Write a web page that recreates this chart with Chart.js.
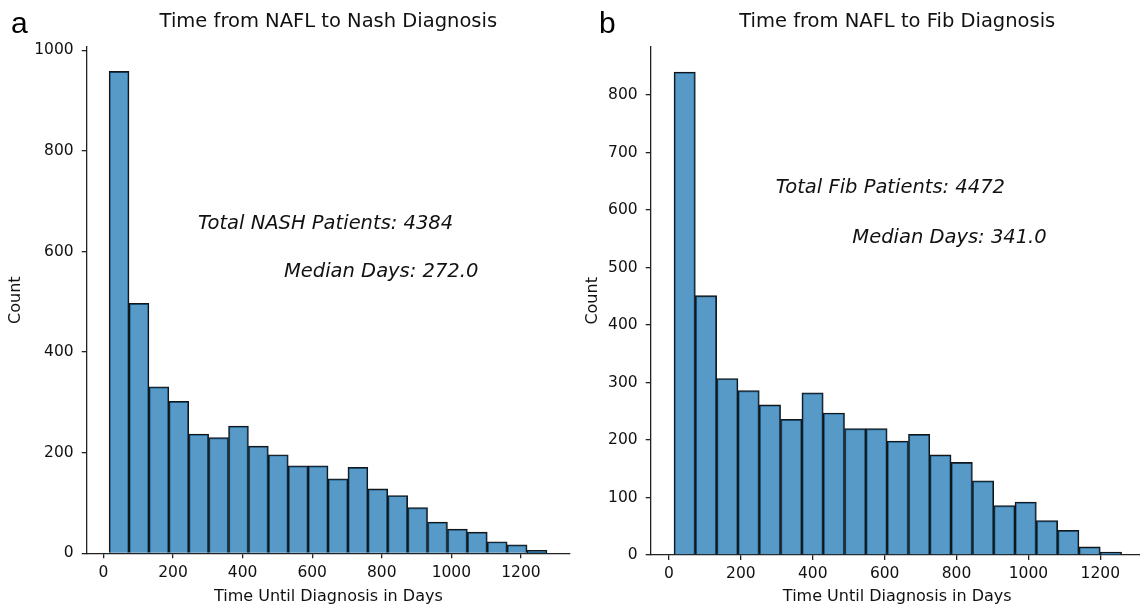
<!DOCTYPE html>
<html>
<head>
<meta charset="utf-8">
<title>Time from NAFL to Diagnosis</title>
<script src="https://cdn.jsdelivr.net/npm/chart.js@4.4.1/dist/chart.umd.min.js"></script>
<style>
  body { margin: 0; width: 1140px; height: 608px; overflow: hidden; background: #fff; position: relative; }
  .panel { position: absolute; top: 0; }
  #panel-a { left: 0; }
  #panel-b { left: 580px; }
</style>
</head>
<body>
<div class="panel" id="panel-a"><canvas id="chart-a" width="580" height="608"></canvas></div>
<div class="panel" id="panel-b"><canvas id="chart-b" width="580" height="608"></canvas></div>
<script>
// histogram counts
const nashCounts = [958, 497, 331, 302, 237, 230, 253, 213, 196, 174, 174, 148, 171, 128, 115, 91, 62, 48, 42, 23, 17, 6];
const nashBinStart = 16.4;
const nashBinWidth = 57.2;

const fibCounts = [840, 451, 307, 286, 261, 236, 282, 247, 220, 220, 198, 210, 174, 161, 129, 86, 92, 60, 43, 14, 5];
const fibBinStart = 13.9;
const fibBinWidth = 59.3;

const xTicks = [0, 200, 400, 600, 800, 1000, 1200];
const nashYTicks = [0, 200, 400, 600, 800, 1000];
const fibYTicks = [0, 100, 200, 300, 400, 500, 600, 700, 800];

const nashNotes = ['Total NASH Patients: 4384', 'Median Days: 272.0'];
const fibNotes = ['Total Fib Patients: 4472', 'Median Days: 341.0'];

Chart.defaults.font.family = '"DejaVu Sans", sans-serif';
Chart.defaults.color = '#111';

const AXIS_COLOR = '#222';
const BAR_FILL = 'rgba(31, 119, 180, 0.75)';

// draws panel letter, title and the two italic notes
const textPlugin = {
  id: 'panelText',
  afterDraw(chart, args, opts) {
    const ctx = chart.ctx;
    const area = chart.chartArea;
    const { x, y } = chart.scales;
    ctx.save();
    ctx.fillStyle = '#000';
    ctx.font = '30px "Liberation Sans", Arial, sans-serif';
    ctx.textAlign = 'left';
    ctx.textBaseline = 'alphabetic';
    ctx.fillText(opts.letter, opts.letterX, 33);

    ctx.fillStyle = '#111';
    ctx.font = '19.5px "DejaVu Sans", sans-serif';
    ctx.textAlign = 'center';
    ctx.textBaseline = 'middle';
    ctx.fillText(opts.title, (area.left + area.right) / 2, 22);

    ctx.font = 'italic 19.5px "DejaVu Sans", sans-serif';
    ctx.textAlign = 'left';
    ctx.textBaseline = 'alphabetic';
    opts.notes.forEach(note => {
      ctx.fillText(note.text, x.getPixelForValue(note.x), y.getPixelForValue(note.y));
    });
    ctx.restore();
  }
};

function makeHistogram(canvasId, setup) {
  const points = setup.counts.map((count, i) => ({
    x: setup.binStart + setup.binWidth * (i + 0.5),
    y: count
  }));

  return new Chart(document.getElementById(canvasId), {
    type: 'bar',
    data: {
      datasets: [{
        data: points,
        backgroundColor: BAR_FILL,
        borderColor: '#151515',
        borderWidth: 1.3,
        barPercentage: 1,
        categoryPercentage: 1
      }]
    },
    options: {
      responsive: false,
      animation: false,
      layout: { padding: setup.padding },
      plugins: {
        legend: { display: false },
        tooltip: { enabled: false },
        panelText: {
          letter: setup.letter,
          letterX: setup.letterX,
          title: setup.title,
          notes: setup.notes
        }
      },
      scales: {
        x: {
          type: 'linear',
          offset: false,
          min: setup.xMin,
          max: setup.xMax,
          afterBuildTicks: scale => { scale.ticks = xTicks.map(v => ({ value: v })); },
          afterFit: scale => { scale.height = setup.xHeight; },
          grid: { offset: false, drawOnChartArea: false, drawTicks: true, tickLength: 5, color: AXIS_COLOR, lineWidth: 1.3 },
          border: { display: true, color: AXIS_COLOR, width: 1.3 },
          ticks: { font: { size: 15.5 }, padding: 5, maxRotation: 0, callback: v => String(v) },
          title: { display: true, text: 'Time Until Diagnosis in Days', font: { size: 16 }, padding: { top: 0, bottom: 1.4 } }
        },
        y: {
          min: 0,
          max: setup.yMax,
          afterBuildTicks: scale => { scale.ticks = setup.yTicks.map(v => ({ value: v })); },
          afterFit: scale => { scale.width = setup.yWidth; },
          grid: { offset: false, drawOnChartArea: false, drawTicks: true, tickLength: 5, color: AXIS_COLOR, lineWidth: 1.3 },
          border: { display: true, color: AXIS_COLOR, width: 1.3 },
          ticks: { font: { size: 15.5 }, padding: 8, callback: v => String(v) },
          title: { display: true, text: 'Count', font: { size: 16 }, padding: { top: setup.yTitlePad, bottom: 0 } }
        }
      }
    },
    plugins: [textPlugin]
  });
}

makeHistogram('chart-a', {
  counts: nashCounts,
  binStart: nashBinStart,
  binWidth: nashBinWidth,
  yTicks: nashYTicks,
  yMax: 1006.6,
  xMin: -48,
  xMax: 1341,
  padding: { left: 0, right: 10, top: 47, bottom: 0 },
  xHeight: 54.7,
  yWidth: 86.7,
  yTitlePad: 6,
  letter: 'a',
  letterX: 11,
  title: 'Time from NAFL to Nash Diagnosis',
  notes: [
    { text: nashNotes[0], x: 272, y: 644 },
    { text: nashNotes[1], x: 519, y: 549 }
  ]
});

makeHistogram('chart-b', {
  counts: fibCounts,
  binStart: fibBinStart,
  binWidth: fibBinWidth,
  yTicks: fibYTicks,
  yMax: 884,
  xMin: -51,
  xMax: 1321,
  padding: { left: 0, right: 16.2, top: 46.7, bottom: 0 },
  xHeight: 53,
  yWidth: 70.7,
  yTitlePad: 3.4,
  letter: 'b',
  letterX: 19,
  title: 'Time from NAFL to Fib Diagnosis',
  notes: [
    { text: fibNotes[0], x: 297, y: 629 },
    { text: fibNotes[1], x: 510, y: 543 }
  ]
});
</script>
</body>
</html>
